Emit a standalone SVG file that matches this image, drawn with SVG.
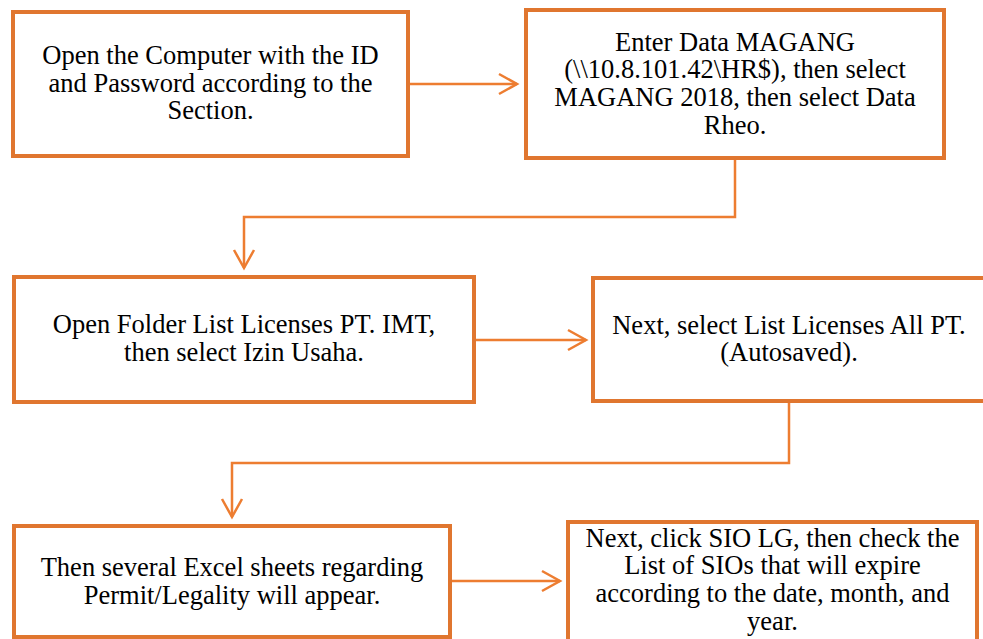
<svg xmlns="http://www.w3.org/2000/svg" width="983" height="639" viewBox="0 0 983 639">
  <style>
    .box { fill: #FFFFFF; stroke: #E0762F; stroke-width: 4; }
    .link { fill: none; stroke: #ED7D31; stroke-width: 2.5; }
    .label { font-family: "Liberation Serif", "Times New Roman", serif; font-size: 26.5px; fill: #000000; text-anchor: middle; }
  </style>
  <defs>
    <marker id="arrow" viewBox="-21 -12 24 24" refX="0" refY="0" markerWidth="24" markerHeight="24" markerUnits="userSpaceOnUse" orient="auto">
      <path d="M-18,-10 L0,0 L-18,10" fill="none" stroke="#ED7D31" stroke-width="2.5"/>
    </marker>
  </defs>
  <rect width="983" height="639" fill="#FFFFFF"/>

  <!-- connectors -->
  <g id="connectors">
    <path class="link" d="M408,84 H517" marker-end="url(#arrow)"/>
    <path class="link" d="M735,158 V217 H244 V268" marker-end="url(#arrow)"/>
    <path class="link" d="M474,340 H586" marker-end="url(#arrow)"/>
    <path class="link" d="M789,401 V463 H232 V517" marker-end="url(#arrow)"/>
    <path class="link" d="M450,581 H560" marker-end="url(#arrow)"/>
  </g>

  <!-- step 1 -->
  <g id="step1">
    <rect class="box" x="13" y="12" width="395" height="144"/>
    <text class="label" x="210.5" y="64">Open the Computer with the ID</text>
    <text class="label" x="210.5" y="91.7">and Password according to the</text>
    <text class="label" x="210.5" y="119.4">Section.</text>
  </g>

  <!-- step 2 -->
  <g id="step2">
    <rect class="box" x="526" y="10" width="418" height="148"/>
    <text class="label" x="735" y="50.7">Enter Data MAGANG</text>
    <text class="label" x="735" y="78.4">(\\10.8.101.42\HR$), then select</text>
    <text class="label" x="735" y="106.1">MAGANG 2018, then select Data</text>
    <text class="label" x="735" y="133.8">Rheo.</text>
  </g>

  <!-- step 3 -->
  <g id="step3">
    <rect class="box" x="14" y="277" width="460" height="125"/>
    <text class="label" x="244" y="333.3">Open Folder List Licenses PT. IMT,</text>
    <text class="label" x="244" y="361">then select Izin Usaha.</text>
  </g>

  <!-- step 4 -->
  <g id="step4">
    <rect class="box" x="593" y="278" width="392" height="123"/>
    <text class="label" x="789" y="333.5">Next, select List Licenses All PT.</text>
    <text class="label" x="789" y="361.2">(Autosaved).</text>
  </g>

  <!-- step 5 -->
  <g id="step5">
    <rect class="box" x="14" y="526" width="436" height="111"/>
    <text class="label" x="232" y="576">Then several Excel sheets regarding</text>
    <text class="label" x="232" y="603.7">Permit/Legality will appear.</text>
  </g>

  <!-- step 6 -->
  <g id="step6">
    <rect class="box" x="568" y="522" width="409" height="130"/>
    <text class="label" x="772.5" y="546.7">Next, click SIO LG, then check the</text>
    <text class="label" x="772.5" y="574.4">List of SIOs that will expire</text>
    <text class="label" x="772.5" y="602.1">according to the date, month, and</text>
    <text class="label" x="772.5" y="629.8">year.</text>
  </g>
</svg>
